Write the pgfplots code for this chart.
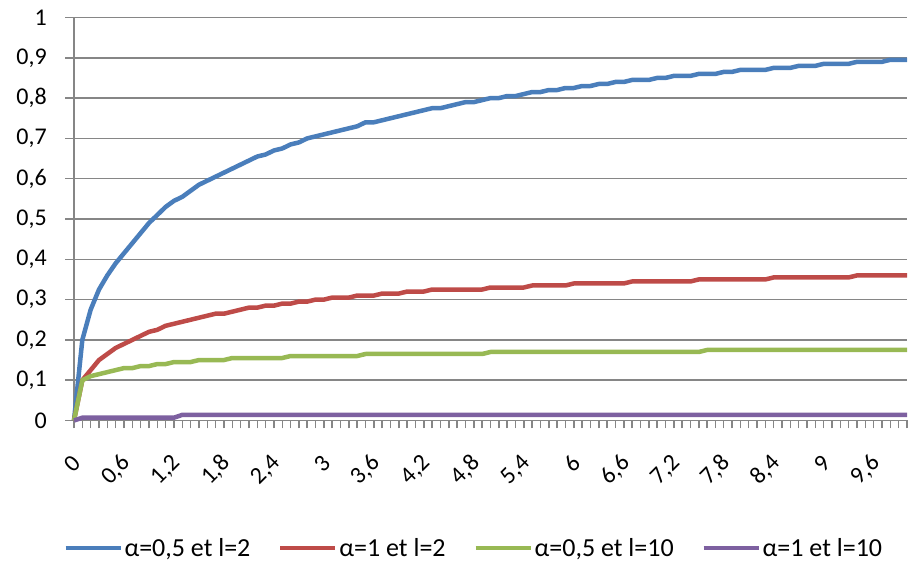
\documentclass[border=0pt]{standalone}
\usepackage{fontspec}
\setmainfont{Carlito}
\usepackage{pgfplots}
\usepackage{pgfplotstable}
\pgfplotsset{compat=1.18}
\definecolor{cblue}{HTML}{4A7EBB}
\definecolor{cred}{HTML}{BE4B48}
\definecolor{cgreen}{HTML}{98B954}
\definecolor{cpurple}{HTML}{7D60A0}
\definecolor{gridgray}{HTML}{868686}

\pgfplotstableread{
x b r g p
0 0 0 0 0
1 0.2 0.1 0.1 0.007
2 0.275 0.125 0.11 0.007
3 0.325 0.15 0.115 0.007
4 0.36 0.165 0.12 0.007
5 0.39 0.18 0.125 0.007
6 0.415 0.19 0.13 0.007
7 0.44 0.2 0.13 0.007
8 0.465 0.21 0.135 0.007
9 0.49 0.22 0.135 0.007
10 0.51 0.225 0.14 0.007
11 0.53 0.235 0.14 0.007
12 0.545 0.24 0.145 0.007
13 0.555 0.245 0.145 0.014
14 0.57 0.25 0.145 0.014
15 0.585 0.255 0.15 0.014
16 0.595 0.26 0.15 0.014
17 0.605 0.265 0.15 0.014
18 0.615 0.265 0.15 0.014
19 0.625 0.27 0.155 0.014
20 0.635 0.275 0.155 0.014
21 0.645 0.28 0.155 0.014
22 0.655 0.28 0.155 0.014
23 0.66 0.285 0.155 0.014
24 0.67 0.285 0.155 0.014
25 0.675 0.29 0.155 0.014
26 0.685 0.29 0.16 0.014
27 0.69 0.295 0.16 0.014
28 0.7 0.295 0.16 0.014
29 0.705 0.3 0.16 0.014
30 0.71 0.3 0.16 0.014
31 0.715 0.305 0.16 0.014
32 0.72 0.305 0.16 0.014
33 0.725 0.305 0.16 0.014
34 0.73 0.31 0.16 0.014
35 0.74 0.31 0.165 0.014
36 0.74 0.31 0.165 0.014
37 0.745 0.315 0.165 0.014
38 0.75 0.315 0.165 0.014
39 0.755 0.315 0.165 0.014
40 0.76 0.32 0.165 0.014
41 0.765 0.32 0.165 0.014
42 0.77 0.32 0.165 0.014
43 0.775 0.325 0.165 0.014
44 0.775 0.325 0.165 0.014
45 0.78 0.325 0.165 0.014
46 0.785 0.325 0.165 0.014
47 0.79 0.325 0.165 0.014
48 0.79 0.325 0.165 0.014
49 0.795 0.325 0.165 0.014
50 0.8 0.33 0.17 0.014
51 0.8 0.33 0.17 0.014
52 0.805 0.33 0.17 0.014
53 0.805 0.33 0.17 0.014
54 0.81 0.33 0.17 0.014
55 0.815 0.335 0.17 0.014
56 0.815 0.335 0.17 0.014
57 0.82 0.335 0.17 0.014
58 0.82 0.335 0.17 0.014
59 0.825 0.335 0.17 0.014
60 0.825 0.34 0.17 0.014
61 0.83 0.34 0.17 0.014
62 0.83 0.34 0.17 0.014
63 0.835 0.34 0.17 0.014
64 0.835 0.34 0.17 0.014
65 0.84 0.34 0.17 0.014
66 0.84 0.34 0.17 0.014
67 0.845 0.345 0.17 0.014
68 0.845 0.345 0.17 0.014
69 0.845 0.345 0.17 0.014
70 0.85 0.345 0.17 0.014
71 0.85 0.345 0.17 0.014
72 0.855 0.345 0.17 0.014
73 0.855 0.345 0.17 0.014
74 0.855 0.345 0.17 0.014
75 0.86 0.35 0.17 0.014
76 0.86 0.35 0.175 0.014
77 0.86 0.35 0.175 0.014
78 0.865 0.35 0.175 0.014
79 0.865 0.35 0.175 0.014
80 0.87 0.35 0.175 0.014
81 0.87 0.35 0.175 0.014
82 0.87 0.35 0.175 0.014
83 0.87 0.35 0.175 0.014
84 0.875 0.355 0.175 0.014
85 0.875 0.355 0.175 0.014
86 0.875 0.355 0.175 0.014
87 0.88 0.355 0.175 0.014
88 0.88 0.355 0.175 0.014
89 0.88 0.355 0.175 0.014
90 0.885 0.355 0.175 0.014
91 0.885 0.355 0.175 0.014
92 0.885 0.355 0.175 0.014
93 0.885 0.355 0.175 0.014
94 0.89 0.36 0.175 0.014
95 0.89 0.36 0.175 0.014
96 0.89 0.36 0.175 0.014
97 0.89 0.36 0.175 0.014
98 0.895 0.36 0.175 0.014
99 0.895 0.36 0.175 0.014
100 0.895 0.36 0.175 0.014
}\data

\begin{document}
\begin{tikzpicture}[font=\fontsize{24}{28}\selectfont]
\path[use as bounding box] (0,0) rectangle (908pt,561pt);
\begin{axis}[
  at={(74pt,140.5pt)}, anchor=south west,
  scale only axis, width=833pt, height=403pt,
  xmin=0, xmax=100, ymin=0, ymax=1,
  axis x line*=bottom, axis y line*=left,
  axis line style={draw=gridgray, line width=1.5pt, -},
  ymajorgrids, grid style={draw=gridgray, line width=1.5pt},
  tick align=outside, major tick length=9pt, minor tick length=8pt,
  tick style={draw=gridgray, line width=1.5pt},
  ytick={0,0.1,0.2,0.3,0.4,0.5,0.6,0.7,0.8,0.9,1},
  yticklabels={0,{0,1},{0,2},{0,3},{0,4},{0,5},{0,6},{0,7},{0,8},{0,9},1},
  yticklabel style={inner sep=0pt, xshift=-18pt},
  xtick={0,6,...,96},
  minor xtick={0,1,...,100},
  xticklabels={0,{0,6},{1,2},{1,8},{2,4},3,{3,6},{4,2},{4,8},{5,4},6,{6,6},{7,2},{7,8},{8,4},9,{9,6}},
  xticklabel style={yshift=-30pt, xshift=3pt, rotate=45, anchor=east, inner sep=0pt},
  major x tick style={draw=none},
  no markers, clip=false,
  every axis plot/.append style={line width=4.5pt, line join=round},
  legend columns=4,
  legend style={at={(axis description cs:0.480,-0.3164)}, anchor=center, draw=none, fill=none,
    font=\fontsize{26}{30}\selectfont,
    /tikz/every even column/.append style={column sep=26pt}, nodes={inner sep=2pt}},
  legend cell align=left,
  legend image code/.code={\draw[#1, line width=4pt] (0pt,0pt) -- (55pt,0pt);},
]
\addplot[cblue] table[x=x,y=b]{\data};
\addlegendentry{α=0,5 et l=2}
\addplot[cred] table[x=x,y=r]{\data};
\addlegendentry{α=1 et l=2}
\addplot[cgreen] table[x=x,y=g]{\data};
\addlegendentry{α=0,5 et l=10}
\addplot[cpurple] table[x=x,y=p]{\data};
\addlegendentry{α=1 et l=10}
\end{axis}
\end{tikzpicture}
\end{document}
